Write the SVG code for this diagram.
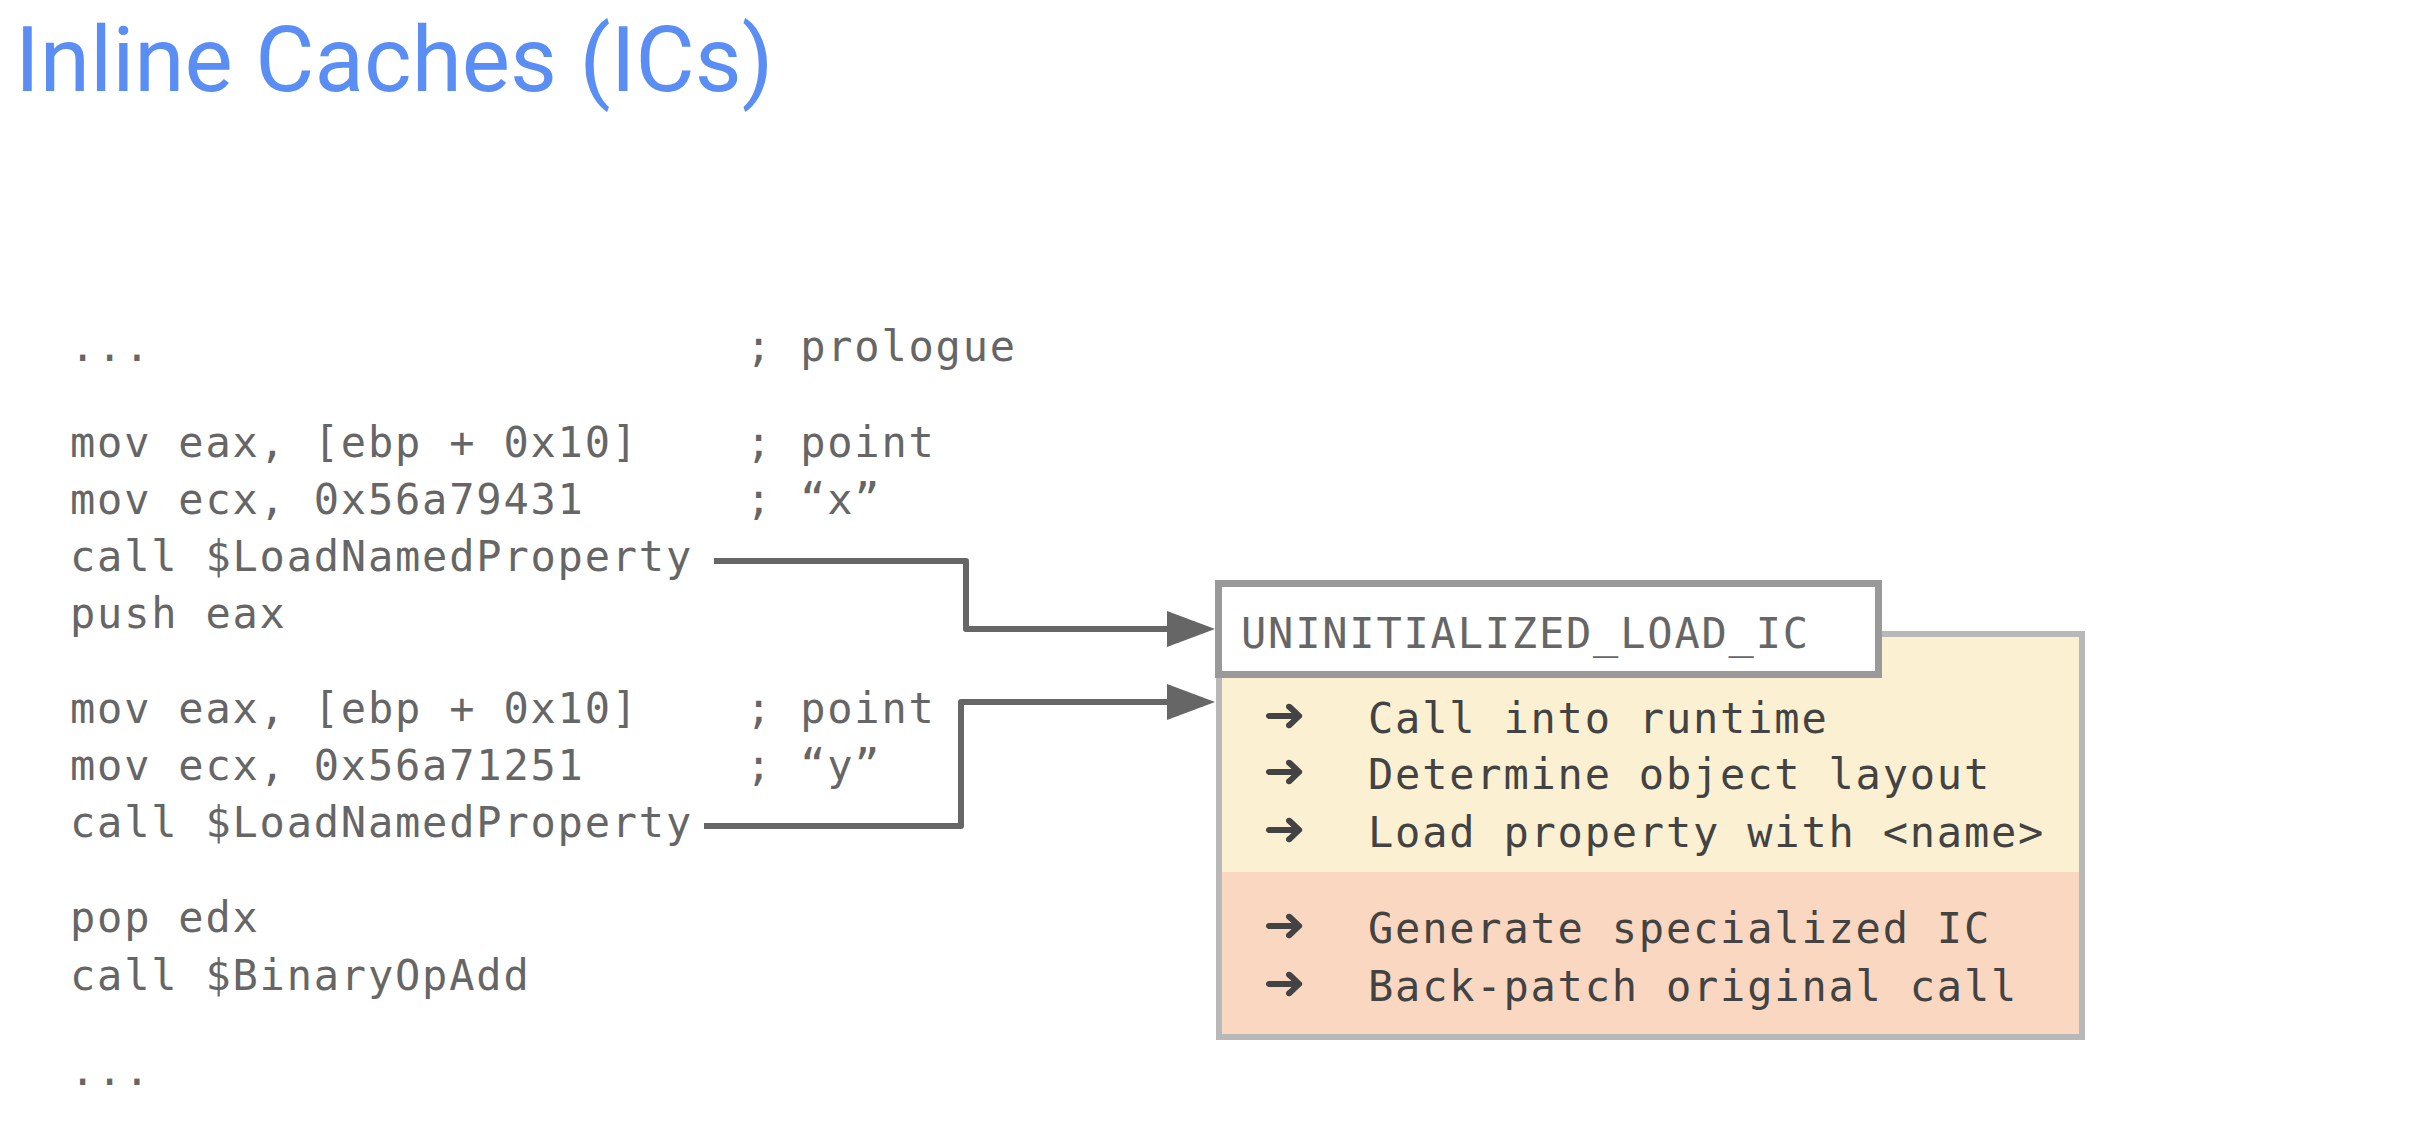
<svg xmlns="http://www.w3.org/2000/svg" width="2432" height="1142" viewBox="0 0 2432 1142">
<defs>
<style>
.title{font-family:Roboto,"Liberation Sans",sans-serif;font-size:91px;fill:#5b8ef5}
.code{font-family:"DejaVu Sans Mono","Liberation Mono",monospace;font-size:42px;letter-spacing:1.8px;fill:#666666}
.item{font-family:"DejaVu Sans Mono","Liberation Mono",monospace;font-size:42px;letter-spacing:1.8px;fill:#434343}
.arr{font-family:"DejaVu Sans",sans-serif;font-size:48px;font-weight:bold;fill:#434343}
.conn{fill:none;stroke:#666666;stroke-width:6;stroke-linejoin:round}
</style>
<marker id="ah" markerUnits="userSpaceOnUse" markerWidth="50" markerHeight="38" refX="0" refY="18" orient="auto" viewBox="0 0 50 38">
<path d="M0,0 L48,18 L0,36 Z" fill="#666666"/>
</marker>
</defs>
<rect width="2432" height="1142" fill="#ffffff"/>
<text class="title" x="15" y="91">Inline Caches (ICs)</text>
<g id="code">
<text class="code" x="70" y="361">...</text>
<text class="code" x="746" y="361">; prologue</text>
<text class="code" x="70" y="457">mov eax, [ebp + 0x10]</text>
<text class="code" x="746" y="457">; point</text>
<text class="code" x="70" y="514">mov ecx, 0x56a79431</text>
<text class="code" x="746" y="514">; “x”</text>
<text class="code" x="70" y="571">call $LoadNamedProperty</text>
<text class="code" x="70" y="628">push eax</text>
<text class="code" x="70" y="723">mov eax, [ebp + 0x10]</text>
<text class="code" x="746" y="723">; point</text>
<text class="code" x="70" y="780">mov ecx, 0x56a71251</text>
<text class="code" x="746" y="780">; “y”</text>
<text class="code" x="70" y="837">call $LoadNamedProperty</text>
<text class="code" x="70" y="932">pop edx</text>
<text class="code" x="70" y="990">call $BinaryOpAdd</text>
<text class="code" x="70" y="1085">...</text>
</g>
<g id="ic-box">
<rect x="1219" y="634" width="863" height="403" fill="#fcf0d2"/>
<rect x="1219" y="872" width="863" height="165" fill="#f9d7c1"/>
<rect x="1219" y="634" width="863" height="403" fill="none" stroke="#b8b8b8" stroke-width="6"/>
<text class="arr" x="1263" y="731" textLength="43" lengthAdjust="spacingAndGlyphs">➜</text>
<text class="item" x="1368" y="733">Call into runtime</text>
<text class="arr" x="1263" y="787" textLength="43" lengthAdjust="spacingAndGlyphs">➜</text>
<text class="item" x="1368" y="789">Determine object layout</text>
<text class="arr" x="1263" y="845" textLength="43" lengthAdjust="spacingAndGlyphs">➜</text>
<text class="item" x="1368" y="847">Load property with &lt;name&gt;</text>
<text class="arr" x="1263" y="941" textLength="43" lengthAdjust="spacingAndGlyphs">➜</text>
<text class="item" x="1368" y="943">Generate specialized IC</text>
<text class="arr" x="1263" y="999" textLength="43" lengthAdjust="spacingAndGlyphs">➜</text>
<text class="item" x="1368" y="1001">Back-patch original call</text>
</g>
<g id="ic-header">
<rect x="1218.5" y="583.5" width="660" height="91" fill="#ffffff" stroke="#999999" stroke-width="7"/>
<text class="code" x="1241" y="648">UNINITIALIZED_LOAD_IC</text>
</g>
<g id="connectors">
<path class="conn" d="M714,561 H966 V629 H1167" marker-end="url(#ah)"/>
<path class="conn" d="M704,826 H961 V702 H1167" marker-end="url(#ah)"/>
</g>
</svg>
